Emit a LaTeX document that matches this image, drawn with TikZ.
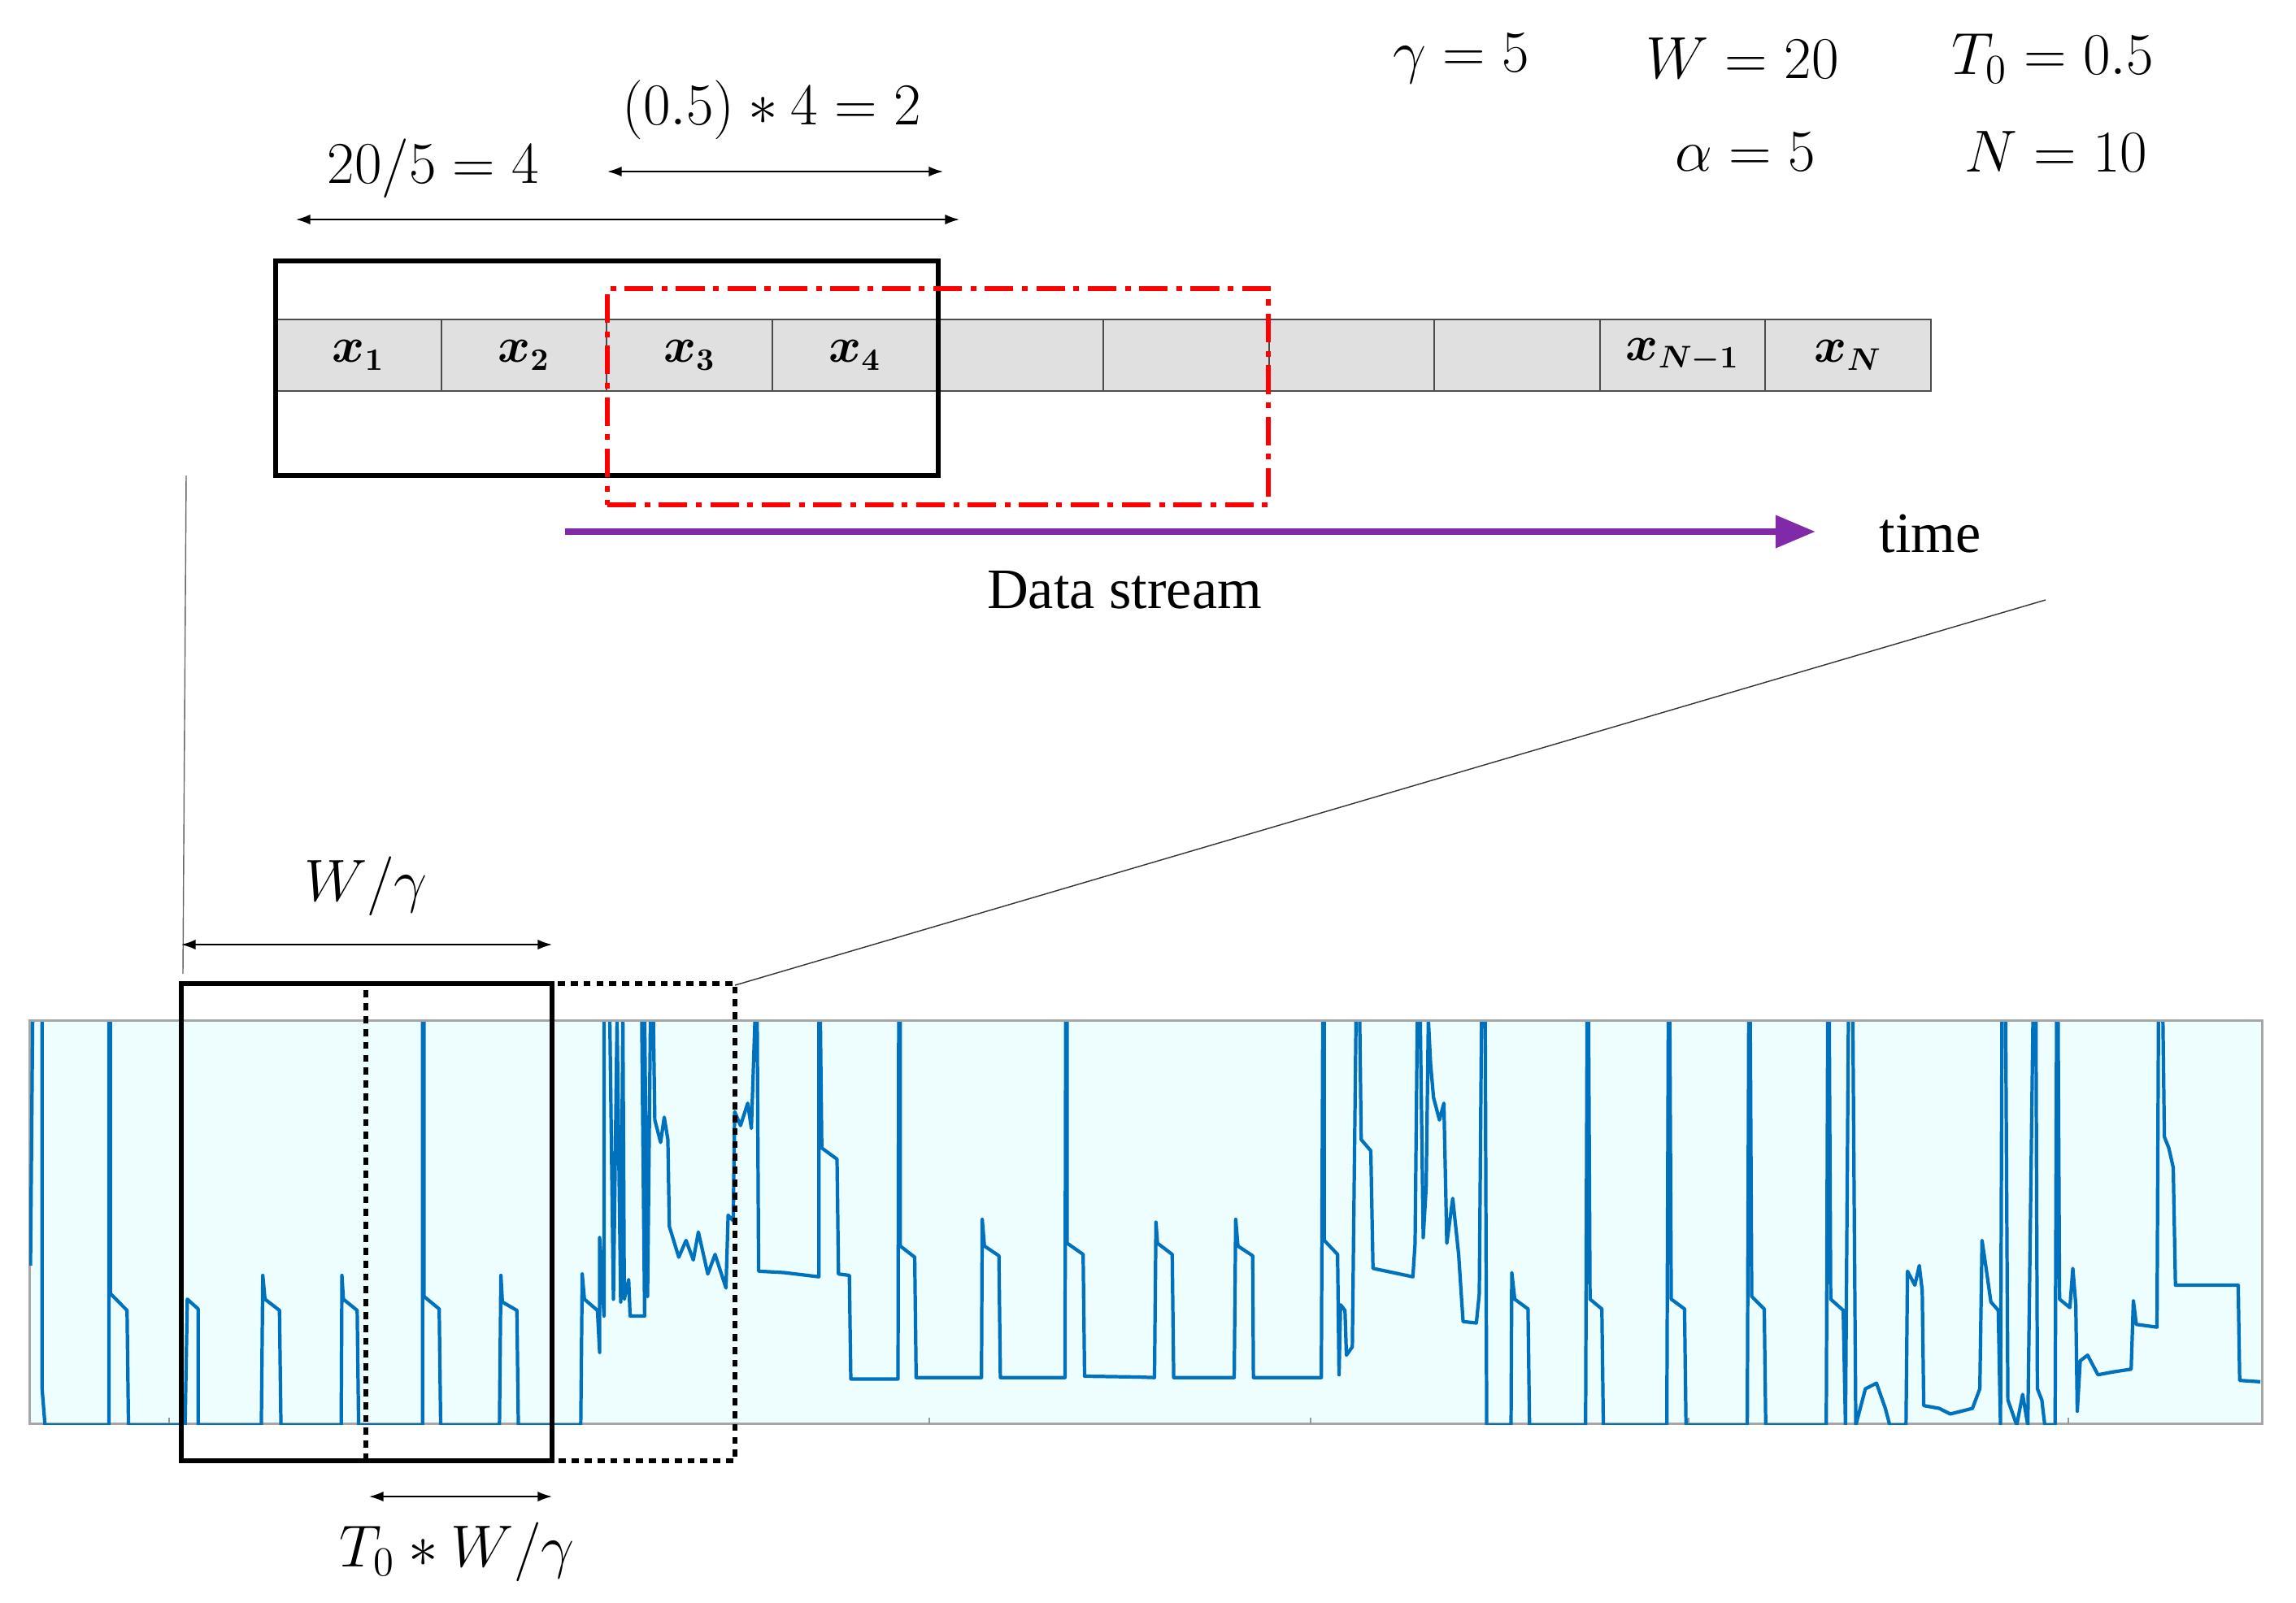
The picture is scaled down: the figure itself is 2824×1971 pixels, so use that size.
\documentclass[tikz,border=0pt]{standalone}
\usepackage{amsmath}
\usepackage{fontspec}
\setmainfont{Liberation Serif}
\usetikzlibrary{arrows.meta}
\definecolor{sig}{RGB}{0,114,189}
\definecolor{pan}{RGB}{238,253,253}
\definecolor{purp}{RGB}{128,42,170}
\begin{document}
\begin{tikzpicture}[x=0.01cm,y=-0.01cm,
  dim/.style={{Latex[length=5pt,width=3.5pt]}-{Latex[length=5pt,width=3.5pt]},line width=0.5pt},
  lab/.style={font=\fontsize{20}{24}\selectfont,inner sep=1pt},
  sg/.style={sig,line width=1.2pt,line join=round},
  cell/.style={draw=black!70,fill=black!12,line width=0.6pt,minimum width=203.6*0.01cm,minimum height=88*0.01cm,inner sep=0pt,font=\fontsize{16}{19}\selectfont}]
\useasboundingbox (0,0) rectangle (2824,1971);
% params
\node[lab] (g) at (1797,72) {$\gamma = 5$};
\node[lab] (w) at (2143,72) {$W = 20$};
\node[lab] (t) at (2525,72) {$T_0 = 0.5$};
\node[lab] (a) at (2147,187) {$\alpha = 5$};
\node[lab] (n) at (2529,187) {$N = 10$};
% cells
\foreach \i/\t in {1/{$\boldsymbol{x}_{\boldsymbol 1}$},2/{$\boldsymbol{x}_{\boldsymbol 2}$},3/{$\boldsymbol{x}_{\boldsymbol 3}$},4/{$\boldsymbol{x}_{\boldsymbol 4}$},5/{},6/{},7/{},8/{},9/{$\boldsymbol{x}_{\boldsymbol{N-1}}$},10/{$\boldsymbol{x}_{\boldsymbol N}$}}
  \node[cell] (c\i) at ({339+203.6*(\i-0.5)},437) {\t};
\node[draw,line width=1.6pt,minimum width=815*0.01cm,minimum height=264*0.01cm,inner sep=0pt] (bw) at (746.5,453) {};
\node[draw=red,line width=1.6pt,dash pattern=on 10pt off 3pt on 2pt off 3pt,minimum width=813*0.01cm,minimum height=266*0.01cm,inner sep=0pt] (rw) at (1153.5,488) {};
% dims top
\coordinate (d1a) at (364,270); \coordinate (d1b) at (1180,270);
\draw[dim] (d1a) -- (d1b);
\node[lab] (l1) at (533,207) {$20/5 = 4$};
\coordinate (d2a) at (747,211); \coordinate (d2b) at (1160,211);
\draw[dim] (d2a) -- (d2b);
\node[lab] (l2) at (949,135) {$(0.5) * 4 = 2$};
% data stream
\coordinate (s1) at (695,654); \coordinate (s2) at (2233,654);
\draw[purp,line width=2.4pt,-{Triangle[length=14pt,width=11pt]}] (s1) -- (s2);
\node[lab] (time) at (2374,657) {time};
\node[lab] (ds) at (1383,726) {Data stream};
% zoom lines
\coordinate (z1) at (229,585); \coordinate (z2) at (225,1198);
\coordinate (z3) at (2516,738); \coordinate (z4) at (904,1212);
\draw[black!60,line width=0.4pt] (z1) -- (z2);
\draw[black!80,line width=0.4pt] (z3) -- (z4);
% panel
\node[draw=black!35,fill=pan,line width=0.6pt,minimum width=2746*0.01cm,minimum height=496*0.01cm,inner sep=0pt] (panel) at (1409.5,1503.5) {};
\foreach \x in {208,1143,1612,2077,2544} \draw[black!40] (\x,1752) -- (\x,1744);
\begin{scope}
\clip (36,1257) rectangle (2783,1752);
\begin{scope}[shift={(0,1240)},x=0.01cm/1.12,y=-0.01cm/2.904]
\draw[sg] (42,920)--(45,40)--(58,40)--(58,1360)--(62,1490)--(150,1490)--(150,40)--(152,40)--(152,1020)--(175,1080)--(177,1490)--(255,1490)--(258,1040)--(273,1075)--(273,1490)--(360,1490)--(362,955)--(365,1040)--(385,1080)--(387,1490)--(470,1490)--(471,955)--(473,1040)--(492,1080)--(494,1490)--(582,1490)--(582,40)--(584,40)--(584,1030)--(605,1075)--(607,1490)--(688,1490)--(690,955)--(692,1050)--(712,1080)--(714,1490)--(800,1490)--(802,950)--(805,1040)--(823,1080)--(826,1230)--(826,820)--(832,1100)--(832,40)--(840,40)--(845,1040)--(850,40)--(855,1050)--(858,40)--(860,1040)--(866,970)--(868,1100)--(888,1100)--(884,40)--(888,40)--(892,1030)--(896,40)--(900,40)--(902,400)--(910,480)--(915,390)--(920,470)--(922,780)--(935,890)--(945,830)--(955,900)--(962,800)--(975,950)--(985,880)--(1000,1000)--(1003,740)--(1010,760)--(1012,370)--(1020,420)--(1030,340)--(1035,430)--(1040,40)--(1043,40)--(1045,940)--(1080,945)--(1128,960)--(1128,40)--(1130,40)--(1132,500)--(1153,540)--(1155,950)--(1170,955)--(1172,1325)--(1237,1325)--(1238,40)--(1240,40)--(1240,850)--(1260,890)--(1262,1320)--(1352,1320)--(1353,755)--(1356,850)--(1376,885)--(1378,1320)--(1467,1320)--(1468,40)--(1470,40)--(1470,840)--(1492,880)--(1494,1315)--(1568,1318);
\end{scope}
\begin{scope}[shift={(1400,1240)},x=0.01cm/1.101,y=-0.01cm/2.904]
\draw[sg] (0,1318)--(22,1320)--(24,765)--(26,840)--(46,880)--(48,1320)--(130,1320)--(132,755)--(135,850)--(155,885)--(156,1320)--(248,1320)--(250,40)--(252,40)--(252,830)--(270,880)--(272,1310)--(274,1060)--(280,1080)--(282,1240)--(290,1210)--(295,40)--(300,40)--(302,470)--(315,510)--(318,930)--(345,945)--(372,960)--(375,840)--(378,40)--(382,40)--(386,820)--(390,640)--(393,40)--(396,200)--(400,320)--(408,400)--(414,340)--(418,840)--(426,680)--(434,880)--(440,1120)--(458,1125)--(462,1020)--(465,40)--(470,40)--(472,1490)--(505,1490)--(506,945)--(510,1040)--(528,1075)--(530,1490)--(606,1490)--(608,40)--(610,40)--(612,1040)--(628,1075)--(630,1490)--(716,1490)--(718,40)--(720,40)--(722,1040)--(740,1075)--(742,1490)--(825,1490)--(827,40)--(829,40)--(831,1030)--(848,1075)--(850,1490)--(932,1490)--(934,40)--(936,40)--(938,1040)--(955,1080)--(958,1490)--(962,40)--(968,40)--(972,1490)--(978,1430)--(985,1360)--(1000,1340)--(1012,1430)--(1018,1490)--(1040,1490)--(1042,940)--(1052,990)--(1058,920)--(1062,1010)--(1064,1420)--(1085,1430)--(1100,1450)--(1130,1430)--(1140,1360)--(1143,830)--(1148,920)--(1155,1050)--(1165,1080)--(1168,1490)--(1170,40)--(1175,40)--(1178,1400)--(1190,1490)--(1198,1380)--(1205,1490)--(1212,40)--(1216,40)--(1218,1360)--(1224,1400)--(1228,1490)--(1242,1490)--(1244,40)--(1246,40)--(1248,1040)--(1262,1070)--(1266,930)--(1270,1060)--(1272,1440)--(1276,1260)--(1286,1240)--(1300,1310)--(1320,1300)--(1345,1290)--(1348,1045)--(1352,1130)--(1380,1140)--(1382,40)--(1388,40)--(1390,460)--(1396,500)--(1402,570)--(1405,990)--(1490,990)--(1492,1330)--(1520,1335);
\end{scope}
\end{scope}
% bottom windows
\node[draw,line width=1.6pt,minimum width=456*0.01cm,minimum height=587*0.01cm,inner sep=0pt] (bb) at (451,1503.5) {};
\node[draw,line width=1.6pt,dash pattern=on 2.5pt off 2pt,minimum width=454*0.01cm,minimum height=587*0.01cm,inner sep=0pt] (db) at (677,1503.5) {};
\coordinate (w1) at (223,1162); \coordinate (w2) at (679,1162);
\draw[dim] (w1) -- (w2);
\node[lab] (lw) at (450,1090) {$W/\gamma$};
\coordinate (t1) at (454,1841); \coordinate (t2) at (679,1841);
\draw[dim] (t1) -- (t2);
\node[lab] (lt) at (562,1909) {$T_0 * W/\gamma$};
\end{tikzpicture}
\end{document}
